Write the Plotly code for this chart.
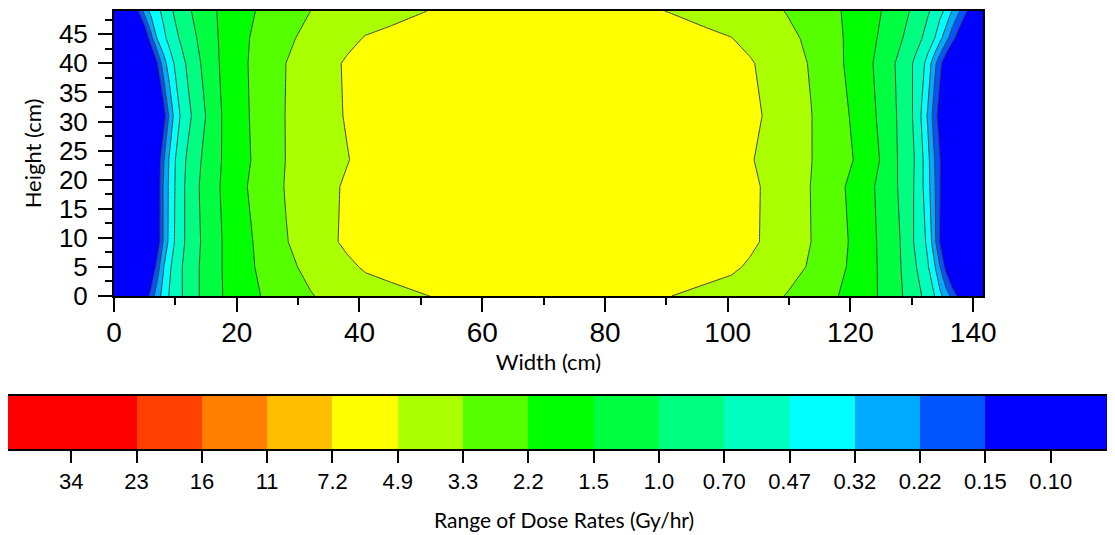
import numpy as np
import plotly.graph_objects as go

# ---- grid positions (cm) ----
width_cm = [0, 3, 4, 5, 6, 7, 8, 9, 10, 11, 12, 13.5, 15.5, 18, 21, 24.5, 28, 32, 35, 38, 41, 45, 51, 60,
            70.8,
            81.6, 90.6, 96.6, 100.6, 103.6, 106.6, 109.6, 113.6, 117.1, 120.6, 123.6, 126.1, 128.1, 129.6,
            130.6, 131.6, 132.6, 133.6, 134.6, 135.6, 136.6, 137.6, 138.6, 141.6]
height_cm = [0, 5, 9.3, 18.8, 23.4, 31, 40, 44.3, 49]

# ---- dose rates (Gy/hr), one list per height row ----
dose_h0 = [0.0312, 0.0329, 0.0574, 0.100, 0.174, 0.264, 0.362, 0.483, 0.575, 0.685, 0.793, 0.986, 1.23, 1.56, 1.89, 2.32, 2.71, 3.23, 3.56, 3.84, 4.12, 4.45, 4.85, 5.29,
           5.47,
           5.29, 4.89, 4.51, 4.17, 3.89, 3.58, 3.26, 2.74, 2.36, 1.94, 1.62, 1.32, 1.08, 0.905, 0.793, 0.698, 0.586, 0.490, 0.356, 0.264, 0.194, 0.131, 0.0890, 0.0312]
dose_h5 = [0.0312, 0.0312, 0.0312, 0.0364, 0.0792, 0.172, 0.306, 0.441, 0.557, 0.685, 0.793, 0.986, 1.23, 1.58, 1.97, 2.48, 3.03, 3.63, 4.06, 4.54, 5.08, 5.37, 5.65, 5.89,
           6.03,
           5.89, 5.67, 5.41, 5.18, 4.65, 4.17, 3.74, 3.19, 2.59, 2.06, 1.63, 1.29, 1.05, 0.841, 0.720, 0.597, 0.492, 0.356, 0.218, 0.125, 0.0716, 0.0411, 0.0312, 0.0312]
dose_h9 = [0.0312, 0.0312, 0.0312, 0.0312, 0.0460, 0.100, 0.218, 0.356, 0.498, 0.633, 0.763, 0.956, 1.22, 1.58, 1.99, 2.56, 3.24, 3.93, 4.54, 5.22, 5.43, 5.62, 5.80, 5.94,
           6.03,
           5.94, 5.80, 5.62, 5.43, 5.24, 4.56, 3.98, 3.30, 2.66, 2.10, 1.62, 1.27, 1.03, 0.790, 0.661, 0.549, 0.435, 0.264, 0.138, 0.0724, 0.0379, 0.0312, 0.0312, 0.0312]
dose_h19 = [0.0312, 0.0312, 0.0312, 0.0312, 0.0460, 0.100, 0.218, 0.344, 0.486, 0.628, 0.769, 0.982, 1.26, 1.64, 2.13, 2.71, 3.37, 3.98, 4.52, 5.12, 5.37, 5.58, 5.78, 5.94,
            6.03,
            5.94, 5.80, 5.62, 5.45, 5.29, 4.58, 3.98, 3.28, 2.60, 2.01, 1.57, 1.23, 0.982, 0.787, 0.664, 0.512, 0.369, 0.240, 0.148, 0.0907, 0.0558, 0.0344, 0.0312, 0.0312]
dose_h23 = [0.0312, 0.0312, 0.0312, 0.0312, 0.0425, 0.0925, 0.201, 0.332, 0.473, 0.604, 0.743, 0.938, 1.22, 1.60, 2.04, 2.62, 3.32, 3.84, 4.30, 4.80, 5.37, 5.58, 5.78, 5.94,
            6.03,
            5.94, 5.76, 5.52, 5.26, 5.01, 4.44, 3.92, 3.33, 2.73, 2.22, 1.73, 1.30, 0.964, 0.787, 0.679, 0.514, 0.361, 0.229, 0.148, 0.0958, 0.0622, 0.0404, 0.0312, 0.0312]
dose_h31 = [0.0312, 0.0312, 0.0312, 0.0312, 0.0312, 0.0497, 0.108, 0.232, 0.378, 0.506, 0.626, 0.815, 1.13, 1.62, 2.08, 2.66, 3.33, 3.92, 4.44, 5.01, 5.26, 5.52, 5.76, 5.94,
            6.03,
            5.94, 5.80, 5.62, 5.47, 5.35, 4.65, 4.03, 3.33, 2.69, 2.12, 1.62, 1.23, 0.956, 0.772, 0.633, 0.455, 0.306, 0.188, 0.116, 0.0710, 0.0437, 0.0312, 0.0312, 0.0312]
dose_h40 = [0.0312, 0.0312, 0.0312, 0.0312, 0.0627, 0.136, 0.264, 0.384, 0.504, 0.616, 0.743, 0.938, 1.26, 1.67, 2.12, 2.66, 3.30, 3.92, 4.47, 5.08, 5.31, 5.54, 5.76, 5.92,
            6.03,
            5.92, 5.76, 5.54, 5.29, 5.05, 4.42, 3.87, 3.21, 2.56, 1.97, 1.53, 1.18, 0.934, 0.757, 0.648, 0.538, 0.410, 0.258, 0.163, 0.100, 0.0615, 0.0379, 0.0312, 0.0312]
dose_h44 = [0.0312, 0.0312, 0.0394, 0.0856, 0.186, 0.321, 0.423, 0.530, 0.636, 0.746, 0.848, 1.03, 1.32, 1.67, 2.10, 2.58, 3.10, 3.64, 4.04, 4.49, 4.97, 5.20, 5.47, 5.73,
            5.92,
            5.73, 5.45, 5.16, 4.91, 4.44, 4.01, 3.61, 3.07, 2.50, 2.00, 1.62, 1.30, 1.08, 0.909, 0.800, 0.706, 0.591, 0.492, 0.356, 0.250, 0.172, 0.117, 0.0792, 0.0312]
dose_h49 = [0.0312, 0.0846, 0.148, 0.257, 0.356, 0.426, 0.514, 0.631, 0.746, 0.848, 0.964, 1.13, 1.38, 1.67, 2.02, 2.41, 2.79, 3.30, 3.60, 3.89, 4.17, 4.49, 4.87, 5.29,
            5.47,
            5.26, 4.83, 4.44, 4.12, 3.86, 3.57, 3.26, 2.77, 2.40, 2.01, 1.68, 1.41, 1.18, 1.03, 0.920, 0.819, 0.731, 0.631, 0.532, 0.430, 0.311, 0.231, 0.168, 0.0635]

# ---- colour bar ----
tick_labels = ["34", "23", "16", "11", "7.2", "4.9", "3.3", "2.2", "1.5", "1.0",
               "0.70", "0.47", "0.32", "0.22", "0.15", "0.10"]
band_colors = ["#FF0000", "#FF4000", "#FF8000", "#FFBF00", "#FFFF00", "#AAFF00", "#55FF00",
               "#00FF00", "#00FF40", "#00FF80", "#00FFBF", "#00FFFF", "#00AAFF", "#0055FF", "#0000FF"]
lowest_label, highest_label, n_steps = 0.10, 34.0, 15
colorbar_title = "Range of Dose Rates (Gy/hr)"

dose = np.array([dose_h0, dose_h5, dose_h9, dose_h19, dose_h23, dose_h31, dose_h40, dose_h44, dose_h49])
z = -np.log10(dose)                       # reversed log scale: high dose on the left of the bar
step = np.log10(highest_label / lowest_label) / n_steps
z_of = lambda k: -(np.log10(lowest_label) + k * step)
tick_z = [z_of(k) for k in range(n_steps, -1, -1)]
c_start, c_end = z_of(n_steps - 1), z_of(1)
colorscale = [[i / (len(band_colors) - 1), c] for i, c in enumerate(band_colors)]

tick_font = dict(family="Liberation Sans, Arial, sans-serif", color="black")
title_font = dict(family="Lato, Open Sans, sans-serif", color="black", size=22)

fig = go.Figure()
fig.add_trace(go.Contour(
    x=width_cm, y=height_cm, z=z,
    zmin=c_start - 2 * step, zmax=c_end + 2 * step,
    autocontour=False,
    contours=dict(start=c_start, end=c_end, size=step, coloring="fill", showlines=False),
    colorscale=colorscale,
    line=dict(width=0, smoothing=0),
    hoverinfo="skip",
    colorbar=dict(
        orientation="h", x=0.5144, xanchor="center", y=-0.3474, yanchor="top",
        len=1110, lenmode="pixels", thickness=55, thicknessmode="pixels",
        xpad=0, ypad=0, outlinewidth=2, outlinecolor="black", borderwidth=0,
        tickmode="array", tickvals=tick_z, ticktext=tick_labels,
        ticks="outside", ticklen=12, tickwidth=2, tickcolor="black",
        tickfont=dict(size=22, **tick_font),
    ),
))
fig.add_trace(go.Contour(
    x=width_cm, y=height_cm, z=z,
    autocontour=False,
    contours=dict(start=c_start, end=c_end, size=step, coloring="none", showlines=True),
    line=dict(color="#404040", width=1, smoothing=0),
    showscale=False, hoverinfo="skip",
))

axis_common = dict(showline=True, linewidth=2, linecolor="black", mirror=True,
                   showgrid=False, zeroline=False, ticks="outside", ticklen=14,
                   tickwidth=2, tickcolor="black")
fig.update_xaxes(range=[0, 141.6], tick0=0, dtick=20, ticklabelstandoff=-4,
                 minor=dict(dtick=10, tick0=0, ticks="outside", ticklen=7, tickwidth=2, tickcolor="black"),
                 tickfont=dict(size=28, **tick_font),
                 title=dict(text="Width (cm)", font=title_font, standoff=8), **axis_common)
fig.update_yaxes(range=[0, 49], tick0=0, dtick=5, ticklabelstandoff=5,
                 minor=dict(dtick=2.5, tick0=0, ticks="outside", ticklen=7, tickwidth=2, tickcolor="black"),
                 tickfont=dict(size=26, **tick_font),
                 title=dict(text="Height (cm)", font=title_font, standoff=11), **axis_common)
fig.add_annotation(text=colorbar_title, xref="paper", yref="paper", x=0.5178, y=-0.7825,
                   xanchor="center", yanchor="middle", showarrow=False,
                   font=dict(family="Lato, Open Sans, sans-serif", color="black", size=21))
fig.update_layout(width=1107, height=527, margin=dict(l=106, r=132, t=3, b=239, autoexpand=False),
                  paper_bgcolor="white", plot_bgcolor="white", showlegend=False)
fig.write_html("out.html")
